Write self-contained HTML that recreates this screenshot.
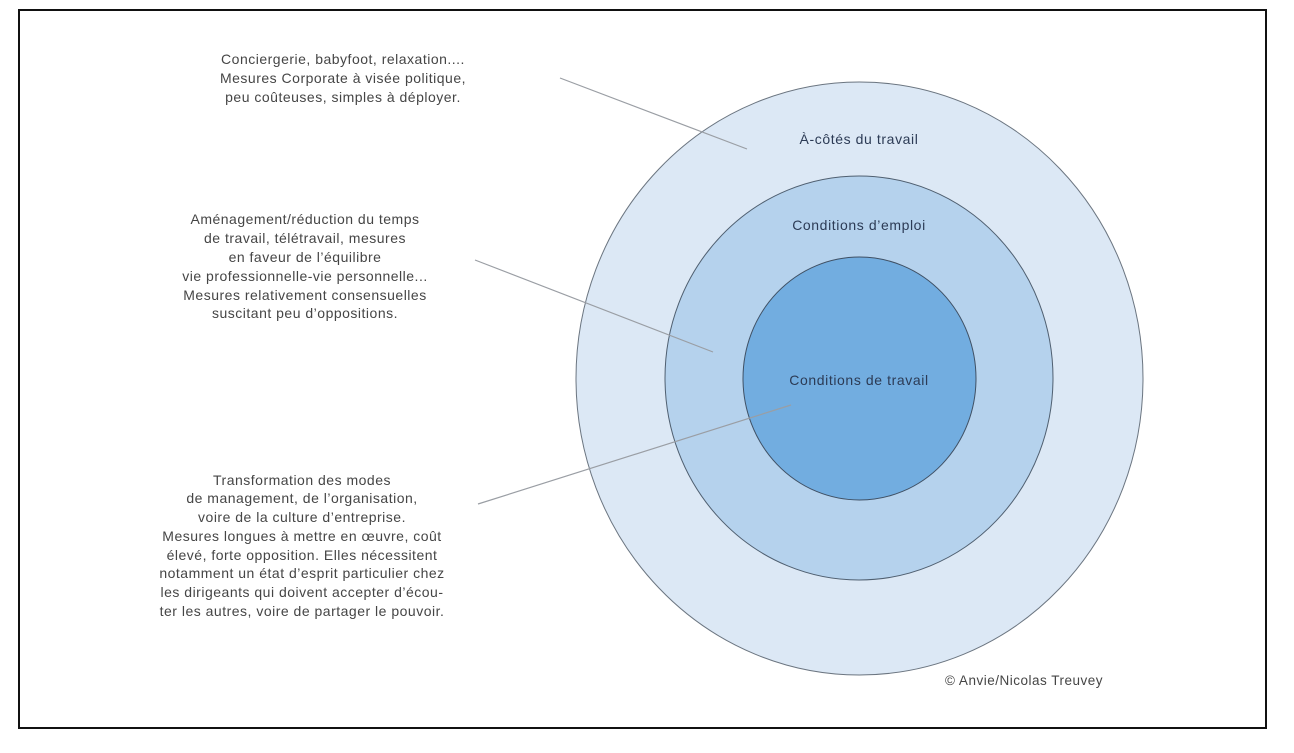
<!DOCTYPE html>
<html><head><meta charset="utf-8"><style>
html,body{margin:0;padding:0;background:#fff;}
body{width:1294px;height:748px;overflow:hidden;}
</style></head><body>
<svg width="1294" height="748" viewBox="0 0 1294 748" xmlns="http://www.w3.org/2000/svg">
<rect x="19" y="10" width="1247" height="718" fill="#fff" stroke="#111" stroke-width="2"/>
<ellipse cx="859.5" cy="378.5" rx="283.5" ry="296.5" fill="#dce8f5" stroke="#6b7580" stroke-width="1"/>
<ellipse cx="859" cy="378" rx="194" ry="202" fill="#b5d2ed" stroke="#4f5f70" stroke-width="1"/>
<ellipse cx="859.5" cy="378.5" rx="116.5" ry="121.5" fill="#72ade0" stroke="#3f5064" stroke-width="1"/>
<g stroke="#9a9ea4" stroke-width="1.2">
<line x1="560" y1="78" x2="747" y2="149"/>
<line x1="475" y1="260" x2="713" y2="352"/>
<line x1="478" y1="504" x2="791" y2="405"/>
</g>
<g font-family="Liberation Sans, sans-serif" font-size="14" fill="#2c3b55" text-anchor="middle" letter-spacing="0.6">
<text x="859" y="144">À-côtés du travail</text>
<text x="859" y="230">Conditions d’emploi</text>
<text x="859" y="385">Conditions de travail</text>
</g>
<g font-family="Liberation Sans, sans-serif" font-size="14" fill="#454545" text-anchor="middle" letter-spacing="0.5">
<text x="343" y="64">Conciergerie, babyfoot, relaxation....</text>
<text x="343" y="83">Mesures Corporate à visée politique,</text>
<text x="343" y="102">peu coûteuses, simples à déployer.</text>
<text x="305" y="224">Aménagement/réduction du temps</text>
<text x="305" y="243">de travail, télétravail, mesures</text>
<text x="305" y="262">en faveur de l’équilibre</text>
<text x="305" y="281">vie professionnelle-vie personnelle...</text>
<text x="305" y="300">Mesures relativement consensuelles</text>
<text x="305" y="318">suscitant peu d’oppositions.</text>
<text x="302" y="485">Transformation des modes</text>
<text x="302" y="503">de management, de l’organisation,</text>
<text x="302" y="522">voire de la culture d’entreprise.</text>
<text x="302" y="541">Mesures longues à mettre en œuvre, coût</text>
<text x="302" y="560">élevé, forte opposition. Elles nécessitent</text>
<text x="302" y="578">notamment un état d’esprit particulier chez</text>
<text x="302" y="597">les dirigeants qui doivent accepter d’écou-</text>
<text x="302" y="616">ter les autres, voire de partager le pouvoir.</text>
<text x="1024" y="685" text-anchor="middle" font-size="13.5">© Anvie/Nicolas Treuvey</text>
</g>
</svg>
</body></html>
